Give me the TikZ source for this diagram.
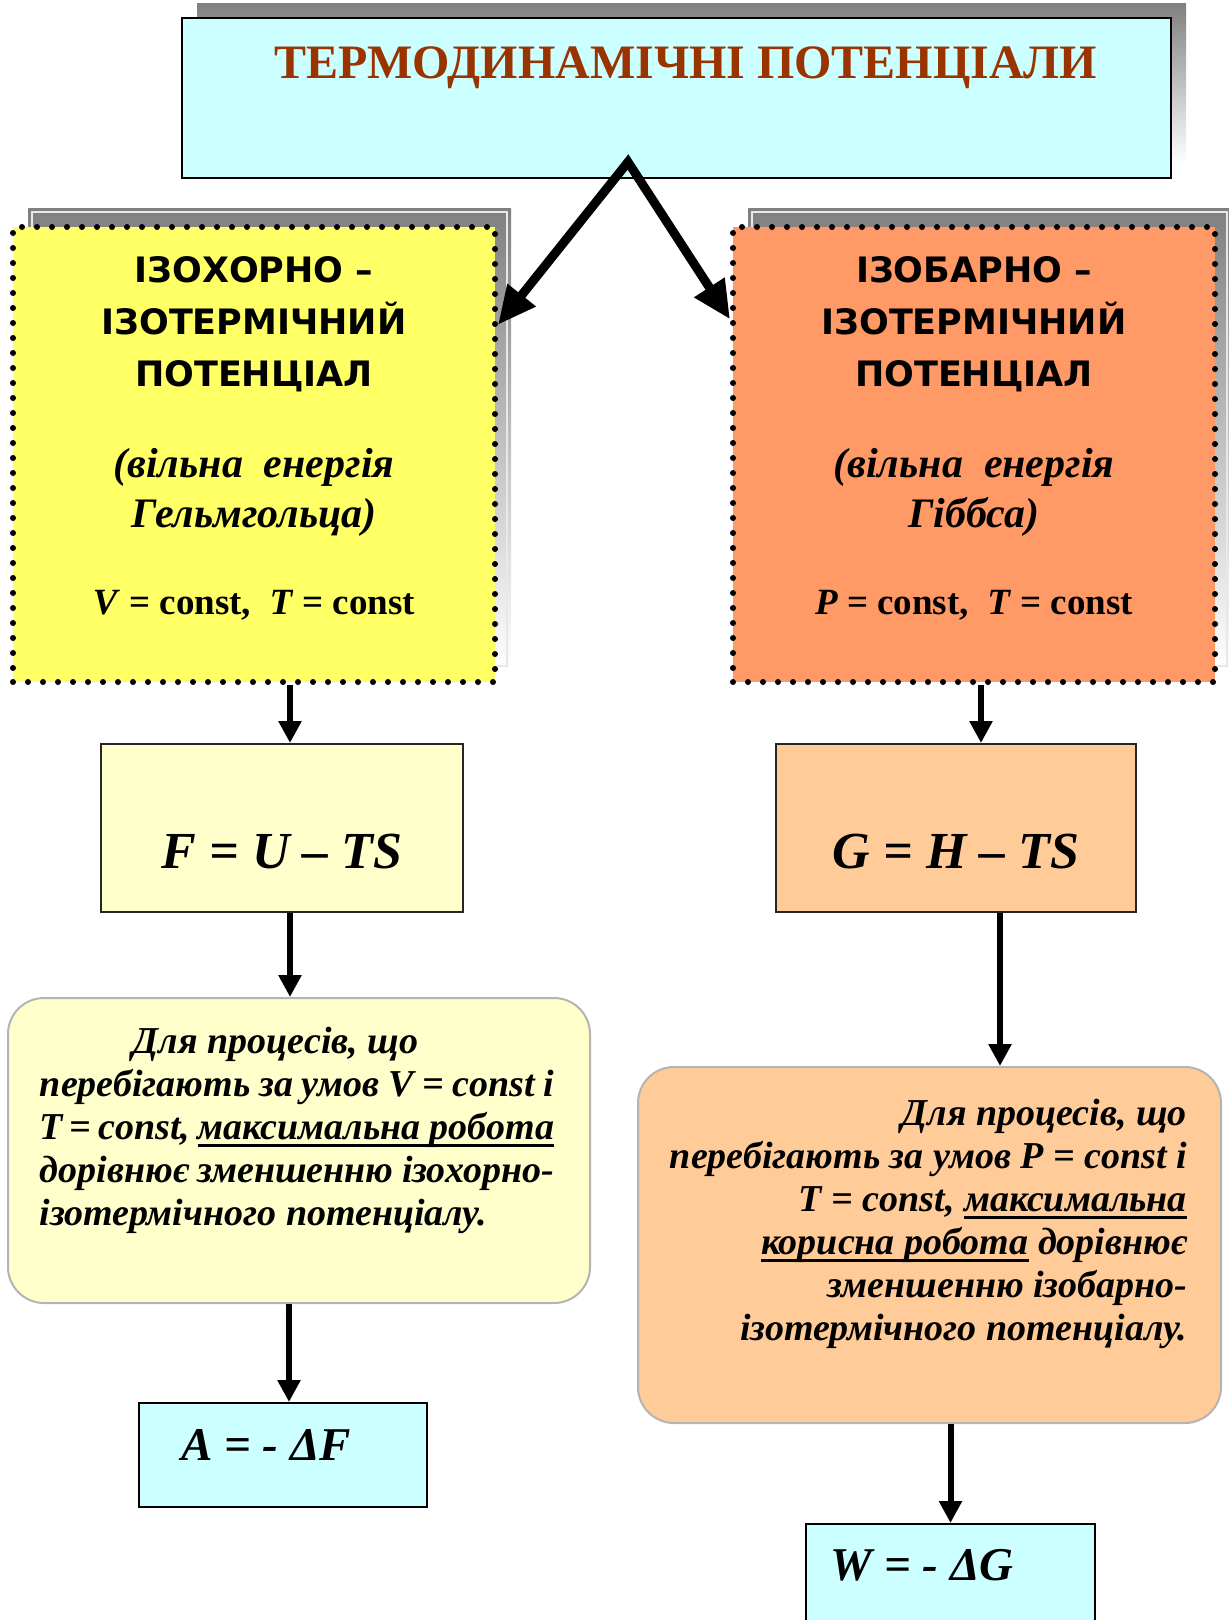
\documentclass[tikz,border=0pt]{standalone}
\usepackage{fontspec}
\setmainfont{Liberation Serif}
\newfontfamily\hdfont{DejaVu Sans}
\usepackage{tikz}
\usetikzlibrary{arrows.meta,calc}
\definecolor{titlebrown}{HTML}{993300}
\definecolor{palecyan}{HTML}{CCFFFF}
\definecolor{yelbox}{HTML}{FFFF66}
\definecolor{orbox}{HTML}{FF9966}
\definecolor{paleyel}{HTML}{FFFFCC}
\definecolor{paleor}{HTML}{FFCC99}
\definecolor{shade}{HTML}{C0C0C0}
\definecolor{shadeline}{HTML}{E8E8E8}
\definecolor{roundline}{HTML}{B4B4B4}
\newsavebox{\ulbox}
\newcommand{\undr}[1]{\leavevmode\sbox{\ulbox}{#1}\rlap{\rule[-8pt]{\wd\ulbox}{3pt}}\usebox{\ulbox}}

\begin{document}
\begin{tikzpicture}[x=1pt,y=-1pt,
  dotbox/.style={draw=black,line width=6pt,dash pattern=on 0pt off 15pt,line cap=round,inner sep=0pt},
  plainbox/.style={draw=black!85,line width=2pt,inner sep=0pt},
  roundbox/.style={draw=roundline,line width=2pt,rounded corners=36pt,inner sep=0pt},
  bigarr/.style={line width=9pt,line join=miter,{Triangle[length=38pt,width=34pt]}-{Triangle[length=38pt,width=34pt]}},
  downarr/.style={line width=6pt,-{Triangle[length=22pt,width=22pt]}}]
\useasboundingbox (0,0) rectangle (1229,1620);
% shadows
\fill[shade] (197,3) rectangle (1186,163);
\fill[shade] (28,208) rectangle (511,670);
\draw[shadeline,line width=1.5pt] (32,212) rectangle (507,666);
\fill[shade] (748,208) rectangle (1231,670);
\draw[shadeline,line width=1.5pt] (752,212) rectangle (1227,666);
% title
\node[draw=black,line width=2pt,fill=palecyan,minimum width=989pt,inner sep=0pt,text height=60pt,text depth=100pt,text=titlebrown,font=\fontsize{48}{56}\selectfont\bfseries] (title) at (676.5,98) {\hspace*{19pt}ТЕРМОДИНАМІЧНІ ПОТЕНЦІАЛИ};
% potentials
\node[dotbox,fill=yelbox] (lbox) at (254,454.5) {\parbox[c][455pt][t]{482pt}{\centering
  \hdfont\fontsize{35}{52}\selectfont\bfseries
  \rule{0pt}{55pt}ІЗОХОРНО –\\ІЗОТЕРМІЧНИЙ\\ПОТЕНЦІАЛ\par
  \vspace{41pt}
  \rmfamily\fontsize{42}{50}\selectfont\bfseries\itshape
  (вільна~ енергія\\Гельмгольца)\par
  \vspace{37pt}
  \fontsize{37}{50}\selectfont\upshape
  \textit{V} = const,~ \textit{T} = const\par}};
\node[dotbox,fill=orbox] (rbox) at (974,454.5) {\parbox[c][455pt][t]{482pt}{\centering
  \hdfont\fontsize{35}{52}\selectfont\bfseries
  \rule{0pt}{55pt}ІЗОБАРНО –\\ІЗОТЕРМІЧНИЙ\\ПОТЕНЦІАЛ\par
  \vspace{41pt}
  \rmfamily\fontsize{42}{50}\selectfont\bfseries\itshape
  (вільна~ енергія\\Гіббса)\par
  \vspace{37pt}
  \fontsize{37}{50}\selectfont\upshape
  \textit{P} = const,~ \textit{T} = const\par}};
% definitions
\node[plainbox,fill=paleyel,minimum width=362pt,text height=124pt,text depth=44pt,font=\fontsize{52}{60}\selectfont\bfseries\itshape] (fbox) at (282,828) {F = U – TS};
\node[plainbox,fill=paleor,minimum width=360pt,text height=124pt,text depth=44pt,font=\fontsize{52}{60}\selectfont\bfseries\itshape] (gbox) at (956,828) {G = H – TS};
% statements
\node[roundbox,fill=paleyel] (lround) at (299,1150.5) {\parbox[c][305pt][t]{582pt}{\fontsize{38}{43}\selectfont\bfseries\itshape\leftskip=32pt
  \rule{0pt}{55pt}\hspace*{93pt}Для процесів, що\par
  \makebox[514pt][s]{перебігають за умов V = const і}\par
  \makebox[514pt][s]{T = const, \undr{максимальна робота}}\par
  \makebox[514pt][s]{дорівнює зменшенню ізохорно-}\par
  ізотермічного потенціалу.\par}};
\node[roundbox,fill=paleor] (rround) at (929.5,1245) {\parbox[c][356pt][t]{583pt}{\raggedleft\rightskip=34pt\fontsize{38}{43}\selectfont\bfseries\itshape
  \rule{0pt}{58pt}Для процесів, що\\
  перебігають за умов P = const і\\
  T = const, \undr{максимальна}\\
  \undr{корисна робота} дорівнює\\
  зменшенню ізобарно-\\
  ізотермічного потенціалу.\par}};
% work
\node[draw=black,line width=2pt,fill=palecyan,inner sep=0pt,minimum width=288pt,text height=57pt,text depth=47pt,font=\fontsize{47}{55}\selectfont\bfseries\itshape] (abox) at (283,1455) {A = - ΔF\hspace*{34pt}};
\node[draw=black,line width=2pt,fill=palecyan,inner sep=0pt,minimum width=289pt,text height=56pt,text depth=60pt,font=\fontsize{47}{55}\selectfont\bfseries\itshape] (wbox) at (950.5,1582) {W = - ΔG\hspace*{57pt}};
% arrows
\coordinate (apex) at (628,162);
\draw[bigarr] (lbox.28) -- (apex) -- (rbox.151);
\draw[downarr] ($(lbox.south -| fbox.north)+(8pt,0)$) -- ($(fbox.north)+(8pt,0)$);
\draw[downarr] ($(rbox.south -| gbox.north)+(25pt,0)$) -- ($(gbox.north)+(25pt,0)$);
\draw[downarr] ($(fbox.south)+(8pt,0)$) -- ($(lround.north -| fbox.south)+(8pt,0)$);
\draw[downarr] ($(gbox.south)+(44pt,0)$) -- ($(rround.north -| gbox.south)+(44pt,0)$);
\draw[downarr] ($(lround.south -| abox.north)+(6pt,0)$) -- ($(abox.north)+(6pt,0)$);
\draw[downarr] (rround.south -| wbox.north) -- (wbox.north);
\end{tikzpicture}
\end{document}
